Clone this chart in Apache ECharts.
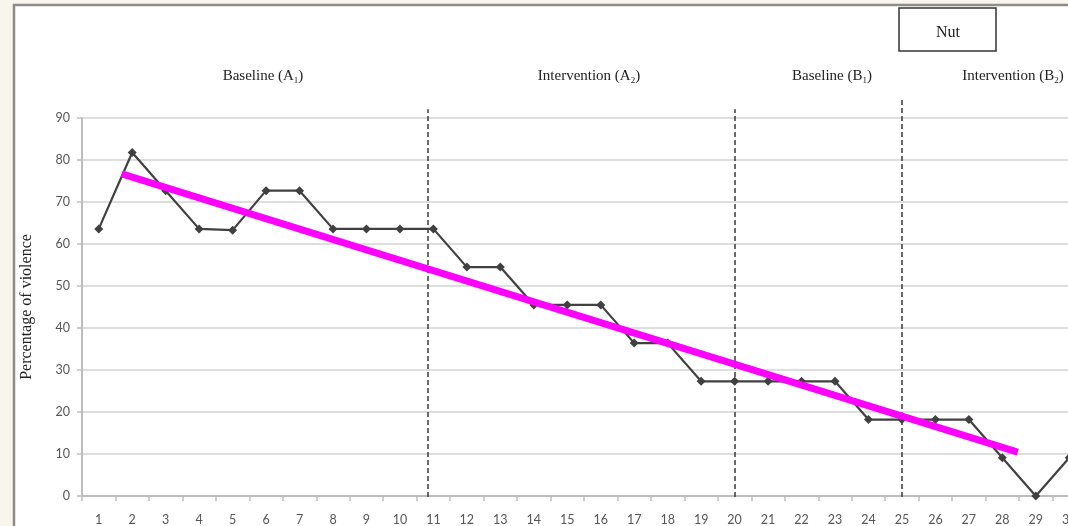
<!DOCTYPE html>
<html>
<head>
<meta charset="utf-8">
<script src="https://cdn.jsdelivr.net/npm/echarts@6/dist/echarts.min.js"></script>
<style>
html,body{margin:0;padding:0;background:#f8f5ec;overflow:hidden;}
#wrap{width:1068px;height:526px;overflow:hidden;position:relative;}
#chart{width:1110px;height:526px;}
</style>
</head>
<body>
<div id="wrap"><div id="chart"></div></div>
<script>
// ---- data ----
const sessions = ['1','2','3','4','5','6','7','8','9','10','11','12','13','14','15','16','17','18','19','20','21','22','23','24','25','26','27','28','29','30'];
const violence = [63.6,81.8,72.7,63.6,63.3,72.7,72.7,63.6,63.6,63.6,63.6,54.5,54.5,45.5,45.5,45.5,36.4,36.4,27.3,27.3,27.3,27.3,27.3,18.2,18.2,18.2,18.2,9.1,0,9.1];
const yTicks = [0,10,20,30,40,50,60,70,80,90];
// trend line end points: [session position, percentage]
const trendStart = [1.69, 76.7];
const trendEnd = [28.46, 10.45];
// phase boundaries (session position) and their top heights on the overlay scale (0-100)
const phaseBoundaries = [10.84, 20.0, 24.98];
const boundaryTops = [97.7, 97.7, 100];
const phaseNames = ['Baseline (A{s|1})', 'Intervention (A{s|2})', 'Baseline (B{s|1})', 'Intervention (B{s|2})'];
const legendText = 'Nut';

const chart = echarts.init(document.getElementById('chart'));
const serif = '"Liberation Serif", "Times New Roman", serif';
const sans = 'Lato, "Open Sans", sans-serif';
const gridLeft = 82, gridWidth = 1004;

const phaseX = [263, 589, 832, 1013];
const subRich = {
  s: {fontSize: 9, fontFamily: serif, fill: '#222', padding: [8,0,0,0]}
};

const option = {
  backgroundColor: 'transparent',
  animation: false,
  graphic: [
    {type: 'rect', z: -10, shape: {x: 14, y: 5, width: 1150, height: 600},
     style: {fill: '#ffffff', stroke: '#8c8c8c', lineWidth: 2.5}},
    {type: 'rect', z: 10, shape: {x: 899, y: 8, width: 97, height: 43},
     style: {fill: '#ffffff', stroke: '#333333', lineWidth: 1.5}},
    {type: 'text', z: 11, x: 948, y: 33,
     style: {text: legendText, font: '16px ' + serif, fill: '#222', align: 'center', verticalAlign: 'middle'}}
  ].concat(phaseNames.map((t, i) => ({
    type: 'text', z: 11, x: phaseX[i], y: 68,
    style: {text: t, font: '15px ' + serif, fill: '#222', align: 'center', verticalAlign: 'top', rich: subRich}
  }))),
  grid: [
    {left: gridLeft, top: 118, width: gridWidth, height: 379},
    {left: gridLeft, top: 100, width: gridWidth, height: 397}
  ],
  xAxis: [
    {type: 'category', gridIndex: 0, data: sessions, boundaryGap: true,
     axisLine: {lineStyle: {color: '#bdbdbd', width: 2}},
     axisTick: {show: true, interval: 0, length: 5, lineStyle: {color: '#bdbdbd', width: 1.5}},
     axisLabel: {interval: 0, color: '#555555', fontSize: 12.5, fontFamily: sans, margin: 17},
     splitLine: {show: false}},
    {type: 'value', gridIndex: 0, min: 0.5, max: sessions.length + 0.5, show: false},
    {type: 'value', gridIndex: 1, min: 0.5, max: sessions.length + 0.5, show: false}
  ],
  yAxis: [
    {type: 'value', gridIndex: 0, min: yTicks[0], max: yTicks[yTicks.length-1], interval: 10,
     name: 'Percentage of violence', nameLocation: 'middle', nameGap: 47, nameRotate: 90,
     nameTextStyle: {fontFamily: serif, fontSize: 16, color: '#222'},
     axisLine: {show: true, lineStyle: {color: '#bdbdbd', width: 2}},
     axisTick: {show: true, length: 5, lineStyle: {color: '#bdbdbd', width: 1.5}},
     axisLabel: {color: '#555555', fontSize: 12.5, fontFamily: sans, margin: 12},
     splitLine: {show: true, lineStyle: {color: '#d3d3d3', width: 1.5}}},
    {type: 'value', gridIndex: 1, min: 0, max: 100, show: false}
  ],
  series: [
    {type: 'lines', coordinateSystem: 'cartesian2d', xAxisIndex: 2, yAxisIndex: 1, z: 3,
     lineStyle: {color: '#444444', width: 1.6, type: [5, 3], opacity: 1},
     data: phaseBoundaries.map((b, i) => ({coords: [[b, 0], [b, boundaryTops[i]]]}))},
    {type: 'line', xAxisIndex: 0, yAxisIndex: 0, data: violence, z: 4,
     symbol: 'diamond', symbolSize: 9, showAllSymbol: true,
     lineStyle: {color: '#404040', width: 2.2},
     itemStyle: {color: '#404040'}},
    {type: 'line', xAxisIndex: 1, yAxisIndex: 0, z: 5,
     data: [trendStart, trendEnd], symbol: 'none',
     lineStyle: {color: '#ff00ff', width: 7, cap: 'butt'}}
  ]
};
chart.setOption(option);
</script>
</body>
</html>
